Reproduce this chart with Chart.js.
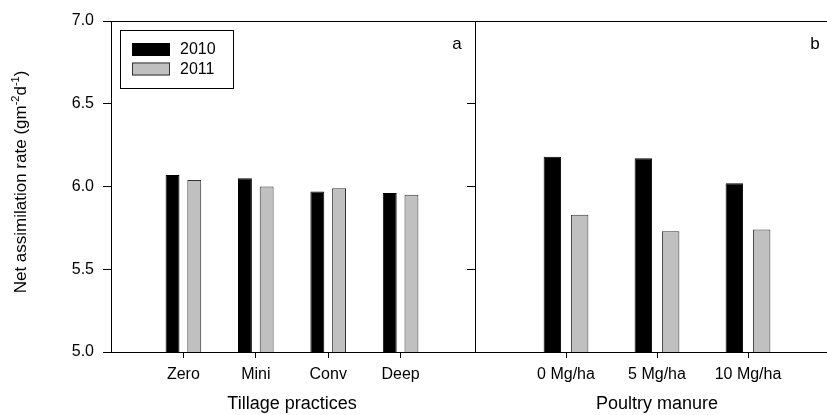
<!DOCTYPE html>
<html>
<head>
<meta charset="utf-8">
<script src="https://cdn.jsdelivr.net/npm/chart.js@4.4.1/dist/chart.umd.min.js"></script>
<style>
  html, body { margin: 0; padding: 0; background: #fff; overflow: hidden; }
  #wrap { position: relative; width: 827px; height: 415px; overflow: hidden; }
  #left { position: absolute; left: 0; top: 0; }
  #right { position: absolute; left: 400px; top: 0; }
</style>
</head>
<body>
<div id="wrap">
  <canvas id="left" width="480" height="415"></canvas>
  <canvas id="right" width="450" height="415"></canvas>
</div>
<script>
const series = ["2010", "2011"];
const tillageCats = ["Zero", "Mini", "Conv", "Deep"];
const tillage2010 = [6.07, 6.05, 5.97, 5.96];
const tillage2011 = [6.04, 6.0, 5.99, 5.95];
const manureCats = ["0 Mg/ha", "5 Mg/ha", "10 Mg/ha"];
const manure2010 = [6.18, 6.17, 6.02];
const manure2011 = [5.83, 5.73, 5.74];
const yTicks = [5.0, 5.5, 6.0, 6.5, 7.0];

const FONT = "'Liberation Sans', Arial, sans-serif";
const GRAY = "#c0c0c0";

// empty slots at both ends so the categories sit one step in from each frame edge
function padded(arr, fill) {
  return [fill, ...arr, fill];
}

function datasets(a, b) {
  return [
    { label: series[0], data: padded(a, null), backgroundColor: "#000", borderColor: "#000", borderWidth: 1 },
    { label: series[1], data: padded(b, null), backgroundColor: GRAY, borderColor: "#333", borderWidth: 1 },
  ];
}

function yScale(showLabels, width) {
  return {
    min: 5,
    max: 7,
    afterBuildTicks: (s) => { s.ticks = yTicks.map((v) => ({ value: v })); },
    afterFit: (s) => { s.width = width; },
    grid: { drawOnChartArea: false, drawTicks: true, tickLength: 8, color: "#000" },
    border: { color: "#000", width: 1 },
    ticks: {
      color: "#000",
      padding: 9,
      font: { family: FONT, size: 16 },
      callback: (v) => (showLabels ? Number(v).toFixed(1) : ""),
    },
  };
}

function xScale(title, count) {
  return {
    offset: false,
    afterFit: (s) => { s.height = 63; },
    grid: {
      offset: false,
      drawOnChartArea: false,
      tickLength: 6,
      color: "#000",
      tickColor: (c) => (c.index === 0 || c.index === count - 1 ? "rgba(0,0,0,0)" : "#000"),
    },
    border: { color: "#000", width: 1 },
    ticks: { color: "#000", padding: 7, autoSkip: false, maxRotation: 0, font: { family: FONT, size: 16 } },
    title: { display: true, text: title, color: "#000", font: { family: FONT, size: 18 }, padding: { top: 0, bottom: 0 } },
  };
}

function drawYTitle(ctx, cx, cy) {
  const parts = [["Net assimilation rate (gm", false], ["-2", true], ["d", false], ["-1", true], [")", false]];
  const main = `17px ${FONT}`;
  const sup = `11px ${FONT}`;
  let total = 0;
  parts.forEach(([t, s]) => { ctx.font = s ? sup : main; total += ctx.measureText(t).width; });
  ctx.save();
  ctx.translate(cx, cy);
  ctx.rotate(-Math.PI / 2);
  ctx.fillStyle = "#000";
  ctx.textAlign = "left";
  ctx.textBaseline = "alphabetic";
  let x = -total / 2;
  parts.forEach(([t, s]) => {
    ctx.font = s ? sup : main;
    ctx.fillText(t, x, s ? -1 : 6);
    x += ctx.measureText(t).width;
  });
  ctx.restore();
}

const decor = {
  id: "decor",
  afterDraw(chart, args, opts) {
    const { ctx, chartArea: a } = chart;
    ctx.save();
    ctx.strokeStyle = "#000";
    ctx.lineWidth = 1;
    const top = Math.round(a.top) + 0.5;
    ctx.beginPath();
    ctx.moveTo(a.left, top);
    ctx.lineTo(a.right, top);
    ctx.stroke();

    ctx.fillStyle = "#000";
    ctx.font = `17px ${FONT}`;
    ctx.textAlign = "center";
    ctx.textBaseline = "alphabetic";
    ctx.fillText(opts.letter, opts.letterX, 49);

    if (opts.legend) {
      ctx.strokeRect(120.5, 30.5, 113, 58);
      ctx.font = `16px ${FONT}`;
      const sets = chart.data.datasets;
      sets.forEach((ds, i) => {
        const y = 43 + i * 19.5;
        ctx.fillStyle = ds.backgroundColor;
        ctx.fillRect(132, y, 38, 13);
        ctx.strokeStyle = ds.borderColor;
        ctx.strokeRect(132.5, y + 0.5, 37, 12);
        ctx.fillStyle = "#000";
        ctx.textAlign = "left";
        ctx.textBaseline = "middle";
        ctx.fillText(ds.label, 180, y + 7);
      });
      drawYTitle(ctx, 20, 182);
    }
    ctx.restore();
  },
};

function makeChart(id, cats, a, b, opts) {
  const labels = padded(cats, "");
  return new Chart(document.getElementById(id), {
    type: "bar",
    data: { labels, datasets: datasets(a, b) },
    options: {
      responsive: false,
      animation: false,
      devicePixelRatio: 1,
      barPercentage: 0.64,
      categoryPercentage: 0.6,
      layout: { padding: { top: 21, left: 0, right: opts.padRight, bottom: 0 } },
      plugins: {
        legend: { display: false },
        tooltip: { enabled: false },
        decor: { letter: opts.letter, letterX: opts.letterX, legend: opts.legend },
      },
      scales: {
        x: xScale(opts.title, labels.length),
        y: yScale(opts.yLabels, opts.yWidth),
      },
    },
    plugins: [decor],
  });
}

makeChart("left", tillageCats, tillage2010, tillage2011, {
  title: "Tillage practices", letter: "a", letterX: 457, legend: true,
  yLabels: true, yWidth: 111, padRight: 5,
});
makeChart("right", manureCats, manure2010, manure2011, {
  title: "Poultry manure", letter: "b", letterX: 415, legend: false,
  yLabels: false, yWidth: 75, padRight: 11,
});
</script>
</body>
</html>
